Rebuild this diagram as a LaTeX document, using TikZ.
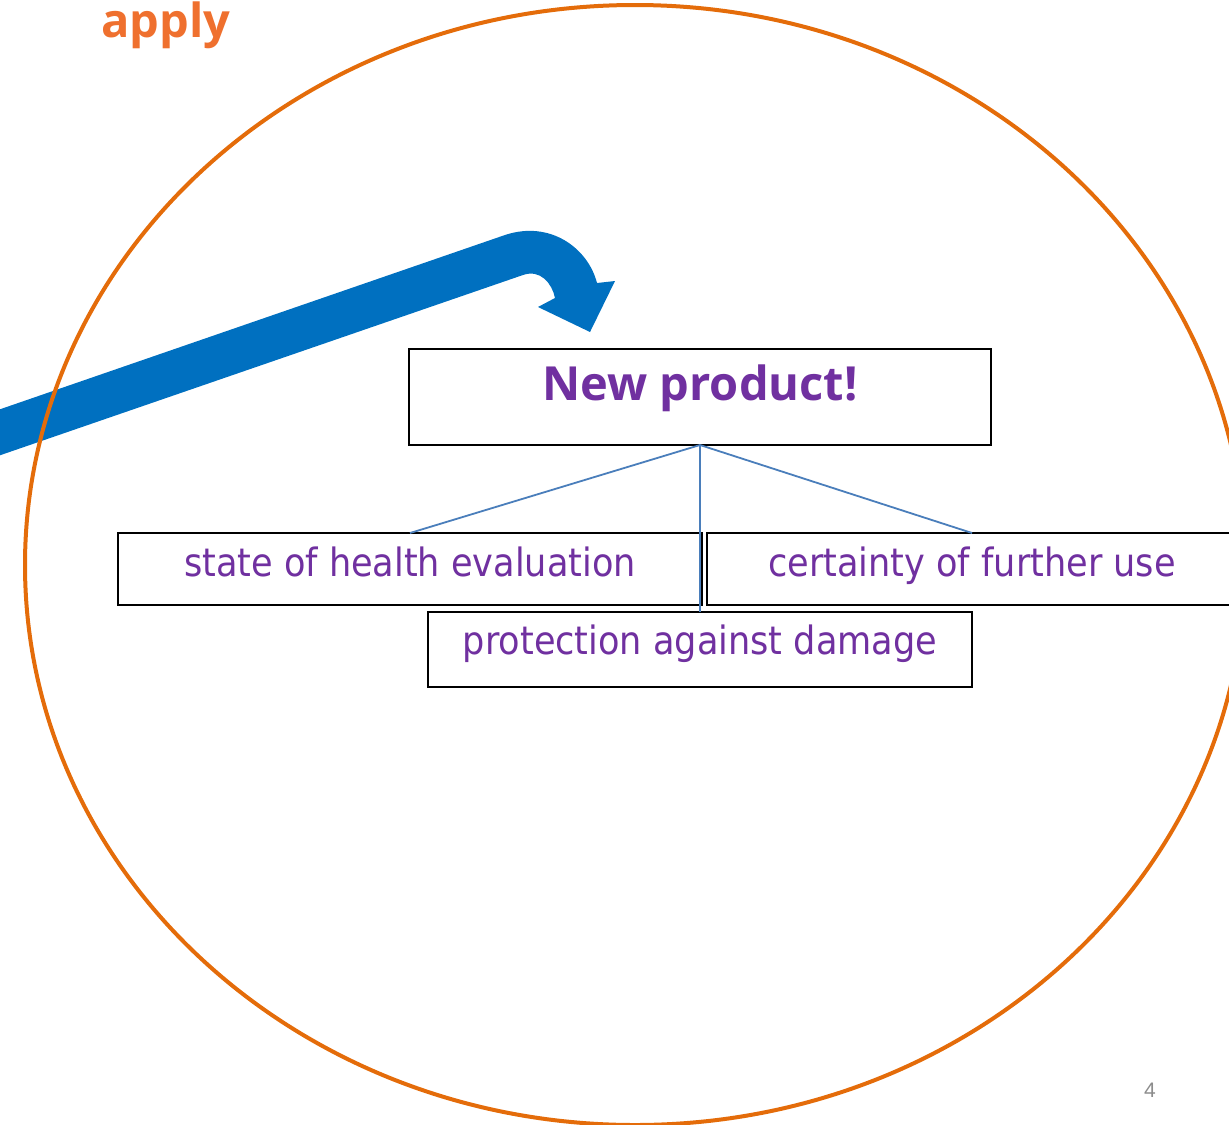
\documentclass[tikz,border=0pt]{standalone}
\usepackage{fontspec}
\newfontfamily\headfont{Open Sans}
\newfontfamily\bodyfont{DejaVu Sans}[FakeStretch=0.9]
\newfontfamily\numfont{Liberation Sans}
\definecolor{ringorange}{HTML}{E46C0A}
\definecolor{titleorange}{HTML}{EF702E}
\definecolor{arrowblue}{HTML}{0070C0}
\definecolor{textpurple}{HTML}{7030A0}
\definecolor{linkblue}{HTML}{4A7EBB}
\begin{document}
\begin{tikzpicture}[x=0.5pt,y=-0.5pt,
  box/.style={draw=black, line width=1.1pt, fill=white, inner sep=0pt,
    outer sep=0pt, anchor=north west, text=textpurple},
  headtext/.style={font=\headfont\bfseries\fontsize{23.5}{28}\selectfont},
  bodytext/.style={font=\bodyfont\fontsize{19.5}{24}\selectfont},
  link/.style={draw=linkblue, line width=0.9pt}]
\useasboundingbox (0,0) rectangle (1229,1124);
\clip (0,0) rectangle (1229,1124);

% curved blue arrow coming in from the left
\fill[arrowblue] (-5,411) -- (505,235)
  .. controls (550,220) and (588,248) .. (597,283)
  -- (615,281) -- (590,332) -- (538,307) -- (555,298)
  .. controls (552,283) and (540,269) .. (523,275)
  -- (-5,457) -- cycle;

% large orange ring
\draw[ringorange, line width=2pt] (635,565) ellipse [x radius=305pt, y radius=280pt];

% title
\node[headtext, text=titleorange, anchor=base west, inner sep=0pt] (apply) at (101,37) {apply};

% boxes
\node[box, headtext, minimum width=291pt, text height=25.5pt, text depth=22.5pt]
  (prod) at (409,349) {New product!};
\node[box, bodytext, minimum width=292pt, text height=21.5pt, text depth=14.5pt]
  (health) at (118,533) {state of health evaluation};
\node[box, bodytext, minimum width=265pt, text height=21.5pt, text depth=14.5pt]
  (further) at (707,533) {certainty of further use};
\node[box, bodytext, minimum width=272pt, text height=21pt, text depth=16.5pt]
  (protect) at (428,612) {protection against damage};

% connectors
\draw[link] (prod.south) -- (health.north);
\draw[link] (prod.south) -- (further.north);
\draw[link] (prod.south) -- (protect.north);

% page number
\node[font=\numfont\fontsize{10.5}{12}\selectfont, text=black!45, anchor=base, inner sep=0pt]
  (page) at (1150,1097) {4};
\end{tikzpicture}
\end{document}
